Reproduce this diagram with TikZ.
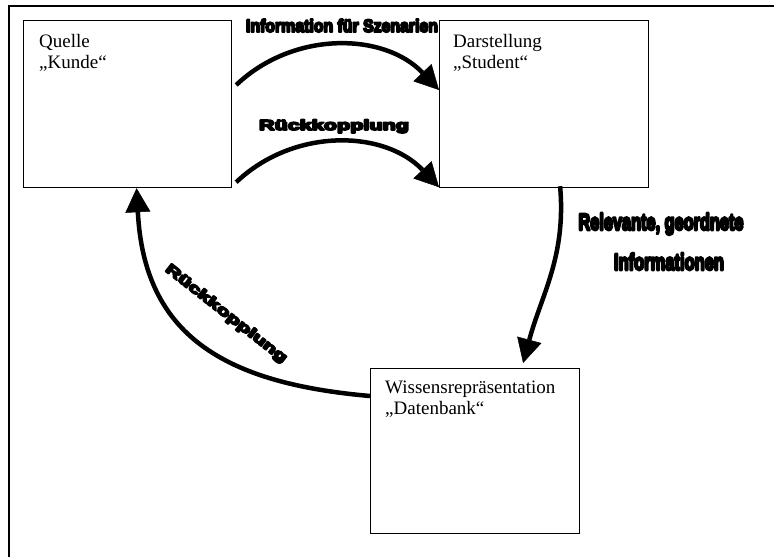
\documentclass[tikz,border=0pt]{standalone}
\usepackage{fontspec}
\usepackage{graphicx}
\setmainfont{Liberation Serif}
\newfontfamily\heavyfont{Liberation Sans Bold}
\newcommand\heavytext[3]{\resizebox{#1}{#2}{\special{pdf:code 2 Tr 1.1 w 1 j}#3\special{pdf:code 0 Tr}}}
\usetikzlibrary{arrows.meta,calc}
\begin{document}
\begin{tikzpicture}[x=1pt,y=1pt,
  frame/.style={line width=1.5pt},
  box/.style={draw, line width=1.2pt, inner sep=0pt, anchor=north west},
  boxtext/.style={inner sep=0pt, align=left, anchor=north west, font=\fontsize{19}{21}\selectfont},
  heavy/.style={inner sep=0pt, font=\heavyfont},
  arr/.style={line width=4.5pt, -{Triangle[length=24pt,width=25pt,line width=0.5pt]}}
]
\useasboundingbox (0,0) rectangle (774,-557);
\draw[frame] (9,-557) -- (9,-6) -- (774,-6);

% boxes
\node[box, minimum width=208pt, minimum height=167pt] (q) at (23,-20) {};
\node[box, minimum width=209pt, minimum height=167pt] (d) at (439,-20) {};
\node[box, minimum width=209pt, minimum height=165pt] (w) at (370,-368) {};

\node[boxtext] (qt) at ($(q.north west)+(16,-14)$) {Quelle\\„Kunde“};
\node[boxtext] (dt) at ($(d.north west)+(14,-14)$) {Darstellung\\„Student“};
\node[boxtext] (wt) at ($(w.north west)+(15,-13)$) {Wissensrepräsentation\\„Datenbank“};

% connector end points
\coordinate (a1s) at ($(q.north east)+(4,-65)$);
\coordinate (a1e) at ($(d.north west)+(0,-70)$);
\coordinate (a2s) at ($(q.south east)+(4,6)$);
\coordinate (a2e) at ($(d.south west)+(0,1)$);
\coordinate (a3s) at ($(d.south)+(16,2)$);
\coordinate (a3e) at ($(w.north)+(48,5)$);
\coordinate (a4s) at ($(w.north west)+(0,-28)$);
\coordinate (a4e) at ($(q.south)+(9,0)$);

\draw[arr] (a1s) to[bend left=45] (a1e);
\draw[arr] (a2s) to[bend left=45] (a2e);
\draw[arr] (a3s) to[out=-85,in=75] (a3e);
\draw[arr] (a4s) to[out=175,in=-87,looseness=1.2] (a4e);

% labels
\node[heavy, anchor=base] (l1) at (342,-32) {\heavytext{192pt}{13pt}{Information für Szenarien}};
\node[heavy, anchor=base] (l2) at (334,-130) {\heavytext{150pt}{10.5pt}{Rückkopplung}};
\node[heavy, anchor=base] (l3) at (661,-230) {\heavytext{165pt}{17pt}{Relevante, geordnete}};
\node[heavy, anchor=base] (l4) at (669,-270) {\heavytext{110pt}{17pt}{Informationen}};
\node[heavy, rotate=-38] (l5) at (226,-314) {\heavytext{150pt}{10.5pt}{Rückkopplung}};
\end{tikzpicture}
\end{document}
